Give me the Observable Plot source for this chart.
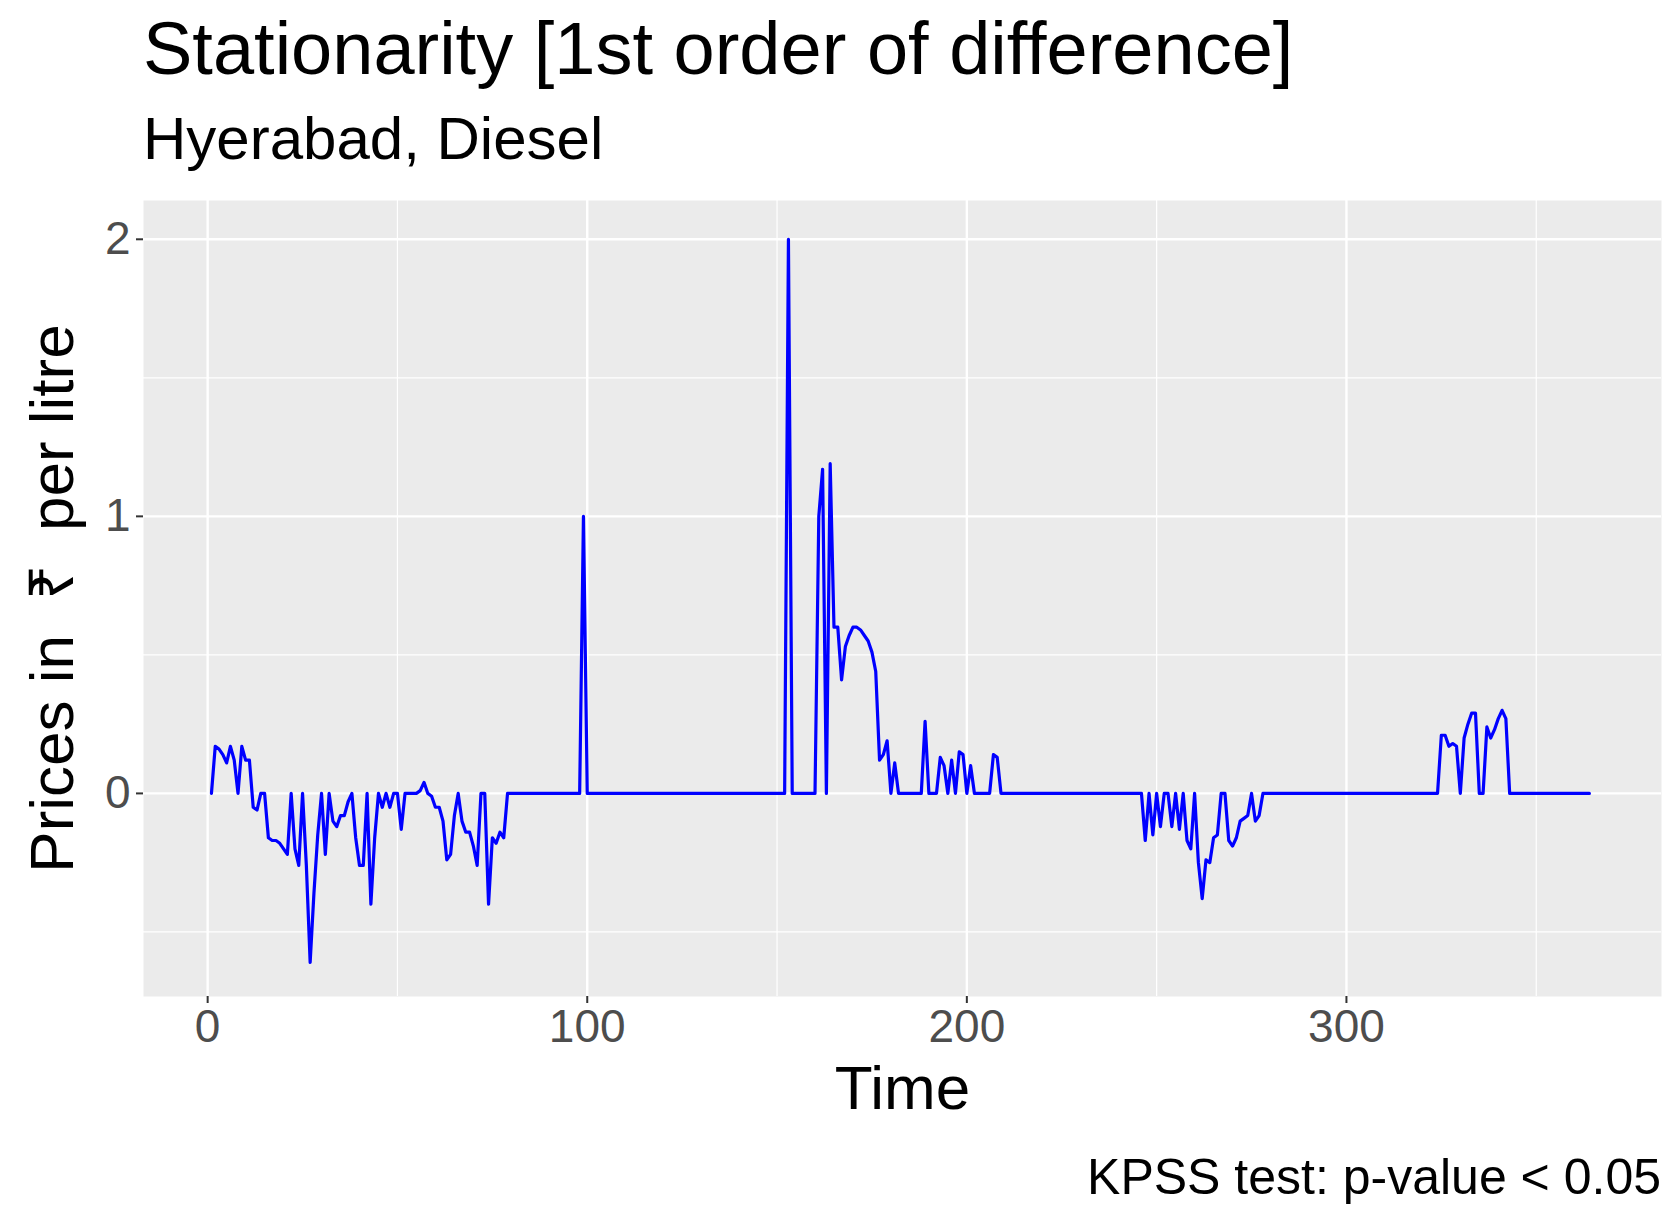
<!DOCTYPE html>
<html>
<head>
<meta charset="utf-8">
<script src="https://cdn.jsdelivr.net/npm/d3@7"></script>
<script src="https://cdn.jsdelivr.net/npm/@observablehq/plot@0.6"></script>
<style>
  body { margin: 0; background: #fff; font-family: "Liberation Sans", Arial, sans-serif; }
  #wrap { position: relative; width: 1675px; height: 1221px; }
  #wrap svg { position: absolute; left: 0; top: 0; }
  .title { position: absolute; left: 143px; top: 6px; font-size: 74px; color: #000; }
  .subtitle { position: absolute; left: 143px; top: 104px; font-size: 60px; color: #000; }
  .caption { position: absolute; right: 14px; top: 1148px; font-size: 50px; color: #000; }
</style>
</head>
<body>
<div id="wrap">
  <div class="title">Stationarity [1st order of difference]</div>
  <div class="subtitle">Hyerabad, Diesel</div>
  <div class="caption">KPSS test: p-value &lt; 0.05</div>
</div>
<script>
// first difference of daily diesel price, day 1..364
const diffValues = [
  0,0.17,0.16,0.14,0.11,0.17,0.12,0,0.17,0.12,0.12,-0.05,-0.06,0,0,-0.16,-0.17,-0.17,-0.18,-0.2,
  -0.22,0,-0.2,-0.26,0,-0.26,-0.61,-0.36,-0.15,0,-0.22,0,-0.1,-0.12,-0.08,-0.08,-0.03,0,-0.16,-0.26,
  -0.26,0,-0.4,-0.16,0,-0.05,0,-0.05,0,0,-0.13,0,0,0,0,0.01,0.04,0,-0.01,-0.05,
  -0.05,-0.1,-0.24,-0.22,-0.08,0,-0.1,-0.14,-0.14,-0.19,-0.26,0,0,-0.4,-0.16,-0.18,-0.14,-0.16,0,0,
  0,0,0,0,0,0,0,0,0,0,0,0,0,0,0,0,0,0,1,0,
  0,0,0,0,0,0,0,0,0,0,0,0,0,0,0,0,0,0,0,0,
  0,0,0,0,0,0,0,0,0,0,0,0,0,0,0,0,0,0,0,0,
  0,0,0,0,0,0,0,0,0,0,0,0,2,0,0,0,0,0,0,0,
  1,1.17,0,1.19,0.6,0.6,0.41,0.53,0.57,0.6,0.6,0.59,0.57,0.55,0.51,0.44,0.12,0.14,0.19,0,
  0.11,0,0,0,0,0,0,0,0.26,0,0,0,0.13,0.1,0,0.12,0,0.15,0.14,0,
  0.1,0,0,0,0,0,0.14,0.13,0,0,0,0,0,0,0,0,0,0,0,0,
  0,0,0,0,0,0,0,0,0,0,0,0,0,0,0,0,0,0,0,0,
  0,0,0,0,0,0,-0.17,0,-0.15,0,-0.12,0,0,-0.12,0,-0.13,0,-0.17,-0.2,0,
  -0.25,-0.38,-0.24,-0.25,-0.16,-0.15,0,0,-0.17,-0.19,-0.16,-0.1,-0.09,-0.08,0,-0.1,-0.08,0,0,0,
  0,0,0,0,0,0,0,0,0,0,0,0,0,0,0,0,0,0,0,0,
  0,0,0,0,0,0,0,0,0,0,0,0,0,0,0,0,0,0,0,0,
  0,0,0,0,0.21,0.21,0.17,0.18,0.17,0,0.2,0.25,0.29,0.29,0,0,0.24,0.2,0.23,0.27,
  0.3,0.27,0,0,0,0,0,0,0,0,0,0,0,0,0,0,0,0,0,0,
  0,0,0,0
];
const xMajor = [0, 100, 200, 300];
const xMinor = [50, 150, 250, 350];
const yMajor = [0, 1, 2];
const yMinor = [-0.5, 0.5, 1.5];

const data = diffValues.map((v, i) => ({time: i + 1, value: v}));

const chart = Plot.plot({
  width: 1675,
  height: 1221,
  marginTop: 200,
  marginBottom: 225,
  marginLeft: 143,
  marginRight: 14,
  style: {fontFamily: "Liberation Sans, Arial, sans-serif", background: "transparent"},
  x: {domain: [-16.9, 383]},
  y: {domain: [-0.733, 2.14]},
  marks: [
    Plot.frame({fill: "#ebebeb", stroke: null}),
    Plot.ruleX(xMinor, {stroke: "#fff", strokeWidth: 1.2}),
    Plot.ruleY(yMinor, {stroke: "#fff", strokeWidth: 1.2}),
    Plot.ruleX(xMajor, {stroke: "#fff", strokeWidth: 2.4}),
    Plot.ruleY(yMajor, {stroke: "#fff", strokeWidth: 2.4}),
    Plot.line(data, {x: "time", y: "value", stroke: "#0000ff", strokeWidth: 3.2}),
    Plot.axisX({ticks: xMajor, tickSize: 7, stroke: "#333", strokeWidth: 2, tickPadding: 6,
      fontSize: 46, fill: "#4d4d4d", label: null, tickFormat: d3.format("d")}),
    Plot.axisY({ticks: yMajor, tickSize: 7, stroke: "#333", strokeWidth: 2, tickPadding: 6,
      fontSize: 46, fill: "#4d4d4d", label: null, tickFormat: d3.format("d")}),
    Plot.text(["Time"], {frameAnchor: "bottom", dy: 112, fontSize: 62, fill: "#000"}),
    Plot.text(["Prices in  ₹  per litre"], {frameAnchor: "left", dx: -90, rotate: -90,
      textAnchor: "middle", fontSize: 62, fill: "#000"})
  ]
});
document.getElementById("wrap").prepend(chart);
</script>
</body>
</html>
